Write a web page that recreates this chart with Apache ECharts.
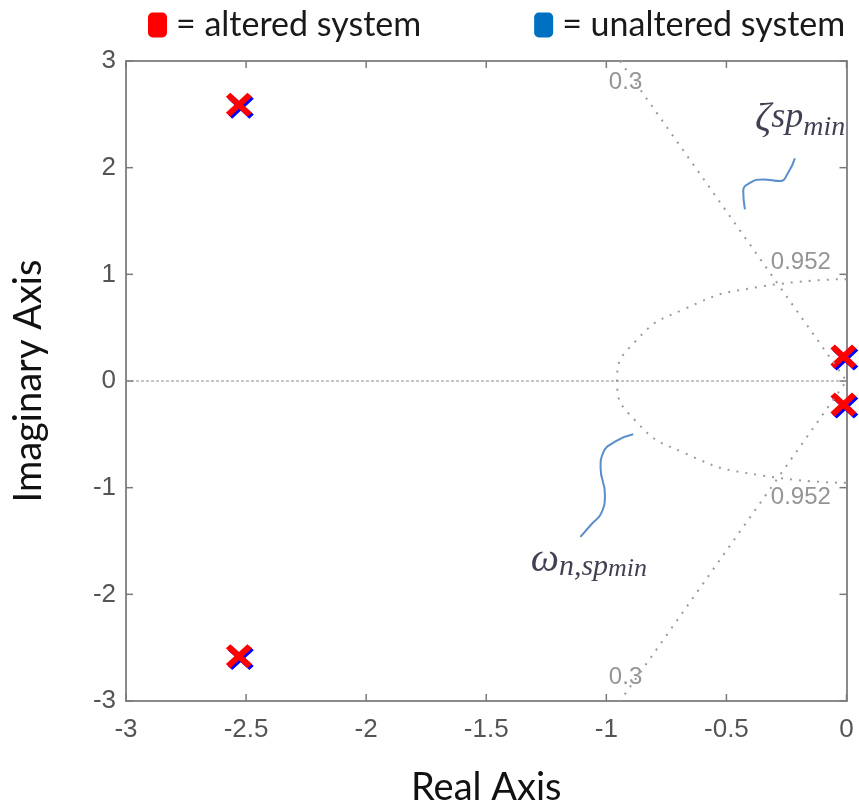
<!DOCTYPE html>
<html>
<head>
<meta charset="utf-8">
<script src="https://cdn.jsdelivr.net/npm/echarts@6/dist/echarts.min.js"></script>
<style>
  html, body { margin: 0; padding: 0; background: #fff; }
  #chart { width: 859px; height: 808px; }
</style>
</head>
<body>
<div id="chart"></div>
<script>
// pole locations
const alteredPoles = [[-2.53, 2.59], [-2.53, -2.58], [-0.013, 0.23], [-0.013, -0.22]];
const unalteredPoles = [[-2.522, 2.572], [-2.522, -2.598], [-0.005, 0.211], [-0.005, -0.239]];

// sgrid lines: damping ratio line and natural frequency circle
const zetaLine = [[-0.943, 3], [0, 0], [-0.943, -3]];
const wnCircle = [[0, 0.955], [-0.365, 0.882], [-0.675, 0.675], [-0.882, 0.365], [-0.955, 0],
                  [-0.882, -0.365], [-0.675, -0.675], [-0.365, -0.882], [0, -0.955]];
const zeroLine = [[-3, 0], [0, 0]];

const gridLabels = [
    { name: '0.3', value: [-0.92, 2.80] },
    { name: '0.3', value: [-0.92, -2.78] },
    { name: '0.952', value: [-0.19, 1.11] },
    { name: '0.952', value: [-0.19, -1.09] }
];

// hand-drawn pointer curves
const zetaPointer = [[-0.423, 1.609], [-0.430, 1.781], [-0.402, 1.858], [-0.347, 1.890],
                     [-0.277, 1.874], [-0.243, 1.952], [-0.215, 2.087]];
const wnPointer = [[-0.888, -0.500], [-0.958, -0.562], [-1.013, -0.672], [-1.024, -0.813],
                   [-1.006, -1.062], [-1.020, -1.234], [-1.062, -1.343], [-1.108, -1.462]];

const xTicks = [-3, -2.5, -2, -1.5, -1, -0.5, 0];
const yTicks = [-3, -2, -1, 0, 1, 2, 3];

const xMarker = 'path://M17,0 L50,33 L83,0 L100,17 L67,50 L100,83 L83,100 L50,67 L17,100 L0,83 L33,50 L0,17 Z';

const axisGray = '#8a8a8a';
const tickColor = '#7a7a7a';
const tickLen = 7;
const labelFont = { color: '#555555', fontSize: 26, fontFamily: 'Liberation Sans, Arial, sans-serif' };
const mathFont = { fontFamily: 'Liberation Serif, serif', fontStyle: 'italic', color: '#101028' };

let chart = echarts.init(document.getElementById('chart'));

const baseX = {
    type: 'value', min: -3, max: 0, interval: 0.5,
    axisLine: { show: true, onZero: false, lineStyle: { color: axisGray, width: 2 } },
    axisTick: { show: false },
    splitLine: { show: false }
};
const baseY = {
    type: 'value', min: -3, max: 3, interval: 1,
    axisLine: { show: true, onZero: false, lineStyle: { color: axisGray, width: 2 } },
    axisTick: { show: false },
    splitLine: { show: false }
};

// inward tick marks on all four sides of the box
function tickSegment(a, b) {
    return { type: 'line', shape: { x1: a[0], y1: a[1], x2: b[0], y2: b[1] },
             style: { stroke: tickColor, lineWidth: 1.5 } };
}
function renderXTick(params, api) {
    const v = api.value(0);
    const bottom = api.coord([v, -3]);
    const top = api.coord([v, 3]);
    return { type: 'group', children: [
        tickSegment(bottom, [bottom[0], bottom[1] - tickLen]),
        tickSegment(top, [top[0], top[1] + tickLen])
    ] };
}
function renderYTick(params, api) {
    const v = api.value(1);
    const left = api.coord([-3, v]);
    const right = api.coord([0, v]);
    return { type: 'group', children: [
        tickSegment(left, [left[0] + tickLen, left[1]]),
        tickSegment(right, [right[0] - tickLen, right[1]])
    ] };
}

let option = {
    animation: false,
    backgroundColor: '#fff',
    grid: { left: 126, right: 12.5, top: 61, bottom: 107, outerBoundsMode: 'none', containLabel: false },
    legend: {
        left: 143, top: 3,
        icon: 'roundRect',
        itemWidth: 19, itemHeight: 25,
        itemGap: 113,
        itemStyle: { opacity: 1 },
        textStyle: { fontSize: 34, color: '#1a1a1a', fontFamily: 'Lato, sans-serif', padding: [0, 0, 0, 4] },
        data: [
            { name: '= altered system', itemStyle: { color: '#ff0000', opacity: 1 } },
            { name: '= unaltered system', itemStyle: { color: '#0070c0', opacity: 1 } }
        ]
    },
    xAxis: [
        Object.assign({}, baseX, {
            position: 'bottom',
            name: 'Real Axis', nameLocation: 'middle', nameGap: 68,
            nameTextStyle: { fontSize: 38, color: '#111', fontFamily: 'Lato, sans-serif' },
            axisLabel: Object.assign({ margin: 16, formatter: v => xTicks.includes(v) ? String(v) : '' }, labelFont)
        }),
        Object.assign({}, baseX, { position: 'top', axisLabel: { show: false } })
    ],
    yAxis: [
        Object.assign({}, baseY, {
            position: 'left',
            name: 'Imaginary Axis', nameLocation: 'middle', nameGap: 78,
            nameTextStyle: { fontSize: 38, color: '#111', fontFamily: 'Lato, sans-serif' },
            axisLabel: Object.assign({ margin: 10, formatter: v => yTicks.includes(v) ? String(v) : '' }, labelFont)
        }),
        Object.assign({}, baseY, { position: 'right', axisLabel: { show: false } })
    ],
    series: [
        {
            type: 'custom', data: xTicks.map(v => [v, 0]), renderItem: renderXTick,
            silent: true, clip: false
        },
        {
            type: 'custom', data: yTicks.map(v => [0, v]), renderItem: renderYTick,
            silent: true, clip: false
        },
        {
            type: 'line', data: zeroLine, symbol: 'none', silent: true,
            lineStyle: { color: '#8c8c8c', width: 1, type: [3, 2] }
        },
        {
            type: 'line', data: zetaLine, symbol: 'none', silent: true,
            lineStyle: { color: '#9a9a9a', width: 2, type: [2, 7] }
        },
        {
            type: 'line', data: wnCircle, symbol: 'none', smooth: 0.55, silent: true,
            lineStyle: { color: '#9a9a9a', width: 2, type: [2, 7] }
        },
        {
            type: 'line', data: zetaPointer, symbol: 'none', smooth: true, silent: true,
            lineStyle: { color: '#5b8dcb', width: 2 }
        },
        {
            type: 'line', data: wnPointer, symbol: 'none', smooth: true, silent: true,
            lineStyle: { color: '#5b8dcb', width: 2 }
        },
        {
            type: 'scatter', data: gridLabels, symbolSize: 0, silent: true,
            label: { show: true, position: 'inside', formatter: '{b}', color: '#7a7a7a', fontSize: 24, fontFamily: 'Liberation Sans, Arial, sans-serif' }
        },
        {
            type: 'scatter', silent: true, symbolSize: 0,
            data: [
                { value: [-0.381, 2.44], label: { formatter: '{b|ζ}{s|sp}{m|min}' } },
                { value: [-1.315, -1.69], label: { formatter: '{b|ω}{s2|n,sp}{m2|min}' } }
            ],
            label: {
                show: true, position: 'right', distance: 0,
                rich: {
                    b: Object.assign({ fontSize: 40, lineHeight: 42, verticalAlign: 'top' }, mathFont),
                    s: Object.assign({ fontSize: 36, lineHeight: 42, verticalAlign: 'top' }, mathFont),
                    m: Object.assign({ fontSize: 28, lineHeight: 28, verticalAlign: 'bottom' }, mathFont),
                    s2: Object.assign({ fontSize: 30, lineHeight: 34, verticalAlign: 'bottom' }, mathFont),
                    m2: Object.assign({ fontSize: 26, lineHeight: 22, verticalAlign: 'bottom' }, mathFont)
                }
            }
        },
        {
            name: '= unaltered system', type: 'scatter', data: unalteredPoles,
            symbol: xMarker, symbolSize: [26, 24], clip: false,
            itemStyle: { color: '#0000ff', opacity: 1 }
        },
        {
            name: '= altered system', type: 'scatter', data: alteredPoles,
            symbol: xMarker, symbolSize: [26, 24], clip: false,
            itemStyle: { color: '#ff0000', opacity: 1 }
        }
    ]
};

option && chart.setOption(option);
</script>
</body>
</html>
